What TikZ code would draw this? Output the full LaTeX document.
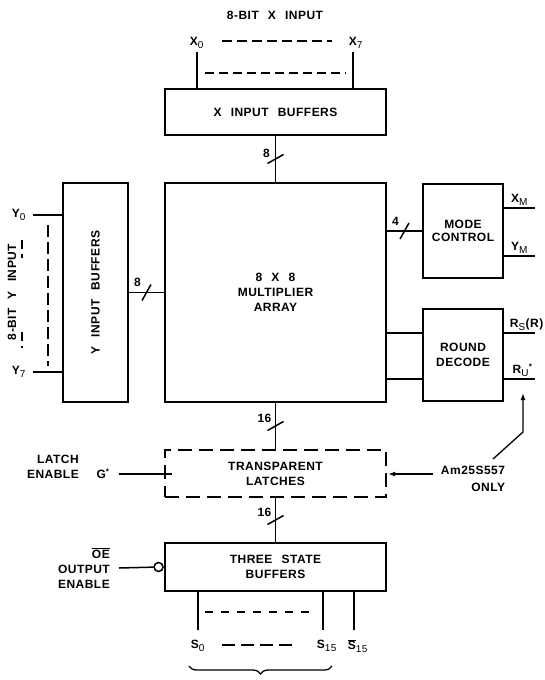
\documentclass[tikz,border=0pt]{standalone}
\usepackage{fontspec}
\setmainfont[LetterSpace=4,WordSpace=2.4]{Liberation Sans}
\usetikzlibrary{arrows.meta, positioning, calc, decorations.pathreplacing}
\newcommand{\pinsub}[1]{\textsubscript{\mdseries\fontsize{10}{10}\selectfont #1}}

\begin{document}
\begin{tikzpicture}[x=1pt, y=-1pt,
        blk/.style={draw, line width=2.4pt, minimum width=221pt, align=center,
            font=\bfseries\fontsize{12}{15}\selectfont},
        lbl/.style={inner sep=1pt, font=\bfseries\fontsize{12}{15}\selectfont},
        wire/.style={line width=1.5pt},
        guide/.style={line width=1.3pt, dash pattern=on 9pt off 5pt},
        arr/.style={-{Latex[length=7pt,width=5pt]}, line width=1.3pt}
    ]
        \useasboundingbox (0,0) rectangle (545,680);

        % blocks
        \node[blk, minimum height=46pt] (xbuf) at (275.5,112) {X INPUT BUFFERS};
        \node[blk, minimum height=219pt] (mult) at (275.5,292.5) {8 X 8\\MULTIPLIER\\ARRAY};
        \node[blk, minimum width=65pt, minimum height=219pt] (ybuf) at (95.5,292.5) {\rotatebox{90}{Y INPUT BUFFERS}};
        \node[blk, minimum width=80pt, minimum height=94pt, font=\bfseries\fontsize{12}{13}\selectfont] (mode) at (463,231) {MODE\\CONTROL};
        \node[blk, minimum width=80pt, minimum height=92pt] (rnd) at (463,355) {ROUND\\DECODE};
        \node[blk, dash pattern=on 14pt off 7pt, minimum height=47pt] (latch) at (275.5,473.5) {TRANSPARENT\\LATCHES};
        \node[blk, minimum height=48pt] (tsb) at (275.5,567) {THREE STATE\\BUFFERS};

        % X inputs
        \node[lbl] (xin) at (275,15) {8-BIT X INPUT};
        \node[lbl] (x0) at (197,43) {X\pinsub{0}};
        \node[lbl] (x7) at (356,43) {X\pinsub{7}};
        \coordinate (x0e) at (197,52);
        \coordinate (x7e) at (353,52);
        \draw[wire] (x0e) -- (x0e |- xbuf.north);
        \draw[wire] (x7e) -- (x7e |- xbuf.north);
        \draw[guide, dash pattern=on 10pt off 5pt] (222,41) -- (332,41);
        \draw[guide] (205,73) -- (346,73);

        % Y inputs
        \node[lbl, rotate=90] (yin) at (12,292) {8-BIT Y INPUT};
        \node[lbl] (y0) at (19,215) {Y\pinsub{0}};
        \node[lbl] (y7) at (19,372) {Y\pinsub{7}};
        \coordinate (y0e) at (33,215);
        \coordinate (y7e) at (33,372);
        \draw[wire] (y0e) -- (y0e -| ybuf.west);
        \draw[wire] (y7e) -- (y7e -| ybuf.west);
        \draw[guide, dash pattern=on 12pt off 5pt] (48,225) -- (48,366);
        \draw[guide] (22,240) -- (22,258);
        \draw[guide] (22,332) -- (22,348);

        % buses
        \draw[wire] (xbuf) -- coordinate (bx) (mult);
        \draw[wire] ($(bx)+(-8,4.5)$) -- ($(bx)+(8,-4.5)$);
        \node[lbl] at ($(bx)+(-9,-6)$) {8};

        \draw[wire] (ybuf) -- coordinate (by) (mult);
        \draw[wire] ($(by)+(-4.5,8)$) -- ($(by)+(4.5,-8)$);
        \node[lbl] at ($(by)+(-9,-10)$) {8};

        \draw[wire] (mode.west -| mult.east) -- coordinate (bm) (mode.west);
        \draw[wire] ($(bm)+(-4.5,8)$) -- ($(bm)+(4.5,-8)$);
        \node[lbl] at ($(bm)+(-9,-10)$) {4};

        \draw[wire] (mult) -- coordinate (bl) (latch);
        \draw[wire] ($(bl)+(-8,4.5)$) -- ($(bl)+(8,-4.5)$);
        \node[lbl] at ($(bl)+(-11,-8)$) {16};

        \draw[wire] (latch) -- coordinate (bt) (tsb);
        \draw[wire] ($(bt)+(-8,4.5)$) -- ($(bt)+(8,-4.5)$);
        \node[lbl] at ($(bt)+(-11,-8)$) {16};

        % mode control and round decode
        \coordinate (xm) at (535,208);
        \coordinate (ym) at (535,256);
        \coordinate (rs) at (535,333);
        \coordinate (ru) at (535,379);
        \draw[wire] (xm -| mode.east) -- node[lbl, above=1pt] {X\pinsub{M}} (xm);
        \draw[wire] (ym -| mode.east) -- node[lbl, above=1pt] {Y\pinsub{M}} (ym);
        \draw[wire] (rs -| mult.east) -- (rs -| rnd.west);
        \draw[wire] (ru -| mult.east) -- (ru -| rnd.west);
        \draw[wire] (rs -| rnd.east) -- node[lbl, above=1pt, xshift=7pt] {R\pinsub{S}(R)} (rs);
        \draw[wire] (ru -| rnd.east) -- node[lbl, above=1pt, xshift=3pt] {R\pinsub{U}\textsuperscript{*}} (ru);

        % latch controls
        \node[lbl, align=right, anchor=east] (le) at (80,467) {LATCH\\ENABLE};
        \node[lbl] (g) at (103,474) {G\textsuperscript{*}};
        \draw[wire] ([xshift=8pt]g.east) -- ([xshift=8pt]g.east -| latch.west);
        \node[lbl] (am) at (473,470) {Am25S557};
        \node[lbl, anchor=east] (only) at (am.east |- 0,487) {ONLY};
        \coordinate (amw) at (433,474);
        \draw[arr, shorten >=1pt] (amw) -- (amw -| latch.east);
        \coordinate (amt) at (493,459);
        \draw[arr] (amt) -- ++(30,-27) -- ++(0,-39);

        % output enable
        \node[lbl, align=right, anchor=east] (oe) at (111,568) {$\overline{\mbox{OE}}$\\OUTPUT\\ENABLE};
        \node[draw, circle, line width=1.5pt, minimum size=9pt, inner sep=0pt, anchor=east] (bub) at (tsb.west) {};
        \draw[wire] ([xshift=8pt]oe.east) -- (bub);

        % outputs
        \coordinate (s0e) at (198,630);
        \coordinate (s15e) at (323,630);
        \coordinate (s15ne) at (354,630);
        \draw[wire] (s0e) -- (s0e |- tsb.south);
        \draw[wire] (s15e) -- (s15e |- tsb.south);
        \draw[wire] (s15ne) -- (s15ne |- tsb.south);
        \draw[guide, dash pattern=on 8pt off 8pt] (205,612) -- (316,612);
        \node[lbl] (s0) at (198,646) {S\pinsub{0}};
        \node[lbl] (s15) at (327,646) {S\pinsub{15}};
        \node[lbl] (s15n) at (358,646) {$\overline{\mbox{S}}$\pinsub{15}};
        \draw[guide, dash pattern=on 13pt off 6pt] (222,645) -- (297,645);
        \draw[line width=1.3pt, decorate, decoration={brace, mirror, amplitude=8pt}] (189,666) -- (332,666);
    \end{tikzpicture}
\end{document}
